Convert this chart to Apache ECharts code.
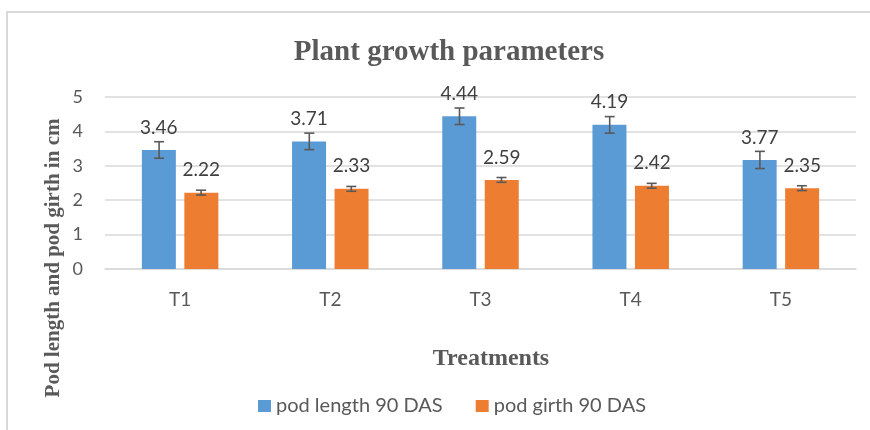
<!DOCTYPE html>
<html>
<head>
<meta charset="utf-8">
<script src="https://cdn.jsdelivr.net/npm/echarts@6/dist/echarts.min.js"></script>
<style>
  html, body { margin: 0; padding: 0; background: #fff; }
  #chart { width: 870px; height: 430px; }
</style>
</head>
<body>
<div id="chart"></div>
<script>
// Data
const categories = ['T1', 'T2', 'T3', 'T4', 'T5'];
const podLength = [3.46, 3.71, 4.44, 4.19, 3.17];
const podLengthLabels = ['3.46', '3.71', '4.44', '4.19', '3.77'];
const podLengthErr = [0.24, 0.24, 0.24, 0.24, 0.25];
const podGirth = [2.22, 2.33, 2.59, 2.42, 2.35];
const podGirthErr = [0.07, 0.07, 0.07, 0.07, 0.07];
const yTicks = { min: 0, max: 5, interval: 1 };

const chart = echarts.init(document.getElementById('chart'));

const textGray = '#595959';
const sans = 'Lato';
const serif = '"Liberation Serif", "Times New Roman", serif';

// error bars drawn at a fixed offset from the category centre
function errorSeries(values, errs, offset) {
  return {
    type: 'custom',
    silent: true,
    z: 10,
    data: values.map((v, i) => [i, v - errs[i], v + errs[i]]),
    renderItem: (params, api) => {
      const lo = api.coord([api.value(0), api.value(1)]);
      const hi = api.coord([api.value(0), api.value(2)]);
      const x = lo[0] + offset;
      const cap = 5;
      const style = { stroke: '#595959', lineWidth: 1.6 };
      return {
        type: 'group',
        children: [
          { type: 'line', shape: { x1: x, y1: lo[1], x2: x, y2: hi[1] }, style },
          { type: 'line', shape: { x1: x - cap, y1: lo[1], x2: x + cap, y2: lo[1] }, style },
          { type: 'line', shape: { x1: x - cap, y1: hi[1], x2: x + cap, y2: hi[1] }, style }
        ]
      };
    }
  };
}

const option = {
  animation: false,
  title: {
    text: 'Plant growth parameters',
    left: 444,
    top: 33,
    textAlign: 'center',
    textStyle: { fontFamily: serif, fontWeight: 'bold', fontSize: 29, color: textGray }
  },
  legend: {
    data: ['pod length 90 DAS', 'pod girth 90 DAS'],
    left: 253,
    top: 391,
    icon: 'rect',
    itemWidth: 13,
    itemHeight: 12,
    itemGap: 33,
    textStyle: { fontFamily: sans, fontSize: 20, color: textGray }
  },
  grid: { left: 105, right: 14, top: 97, bottom: 161 },
  xAxis: {
    type: 'category',
    data: categories,
    axisTick: { show: false },
    axisLine: { lineStyle: { color: '#d9d9d9', width: 1.5 } },
    axisLabel: { fontFamily: sans, fontSize: 19, color: textGray, margin: 21 }
  },
  yAxis: {
    type: 'value',
    min: yTicks.min,
    max: yTicks.max,
    interval: yTicks.interval,
    axisLine: { show: false },
    axisTick: { show: false },
    splitLine: { lineStyle: { color: '#d9d9d9', width: 1.5 } },
    axisLabel: { fontFamily: sans, fontSize: 18, color: textGray, margin: 22 }
  },
  graphic: [
    {
      type: 'rect',
      shape: { x: 7, y: 12, width: 900, height: 500 },
      style: { fill: 'none', stroke: '#d9d9d9', lineWidth: 2 },
      silent: true
    },
    {
      type: 'text',
      x: 54,
      y: 258,
      rotation: Math.PI / 2,
      style: {
        text: 'Pod length and pod girth in cm',
        fontFamily: serif,
        fontWeight: 'bold',
        fontSize: 21,
        fill: textGray,
        align: 'center',
        verticalAlign: 'middle'
      }
    },
    {
      type: 'text',
      x: 491,
      y: 359,
      style: {
        text: 'Treatments',
        fontFamily: serif,
        fontWeight: 'bold',
        fontSize: 24,
        fill: textGray,
        align: 'center',
        verticalAlign: 'middle'
      }
    }
  ],
  series: [
    {
      name: 'pod length 90 DAS',
      type: 'bar',
      barWidth: 34,
      barGap: '25%',
      itemStyle: { color: '#5B9BD5' },
      label: {
        show: true,
        position: 'top',
        distance: 13,
        fontFamily: sans,
        fontSize: 19,
        color: '#404040',
        formatter: (p) => podLengthLabels[p.dataIndex]
      },
      data: podLength
    },
    {
      name: 'pod girth 90 DAS',
      type: 'bar',
      barWidth: 34,
      itemStyle: { color: '#ED7D31' },
      label: {
        show: true,
        position: 'top',
        distance: 13,
        fontFamily: sans,
        fontSize: 19,
        color: '#404040'
      },
      data: podGirth
    },
    errorSeries(podLength, podLengthErr, -21),
    errorSeries(podGirth, podGirthErr, 21)
  ]
};

chart.setOption(option);
</script>
</body>
</html>
